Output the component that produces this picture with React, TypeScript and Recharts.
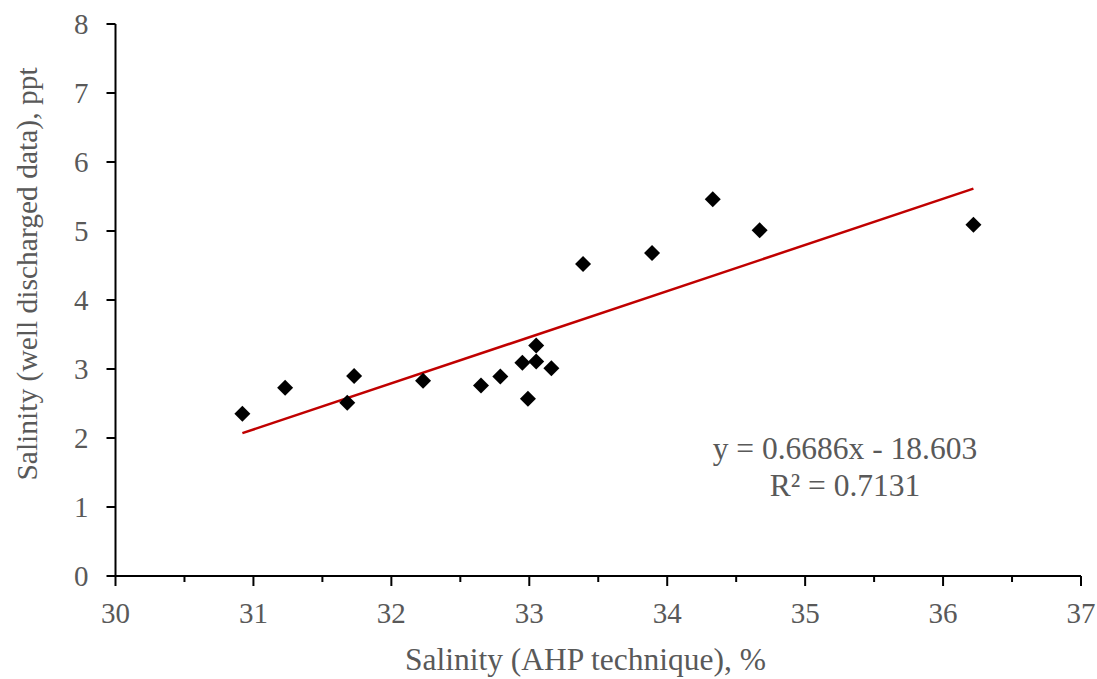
import { ScatterChart, Scatter, XAxis, YAxis } from 'recharts'

// Salinity readings, one entry per well
const salinityAhp = [30.92, 31.23, 31.73, 31.68, 32.23, 32.65, 32.79, 32.95, 32.99, 33.05, 33.05, 33.16, 33.39, 33.89, 34.33, 34.67, 36.22]
const salinityWell = [2.35, 2.73, 2.9, 2.51, 2.83, 2.76, 2.89, 3.09, 2.57, 3.34, 3.11, 3.01, 4.52, 4.68, 5.46, 5.01, 5.09]

const xTicks = [30, 30.5, 31, 31.5, 32, 32.5, 33, 33.5, 34, 34.5, 35, 35.5, 36, 36.5, 37]
const yTicks = [0, 1, 2, 3, 4, 5, 6, 7, 8]

// linear fit reported on the chart
const slope = 0.6686
const intercept = -18.603
const rSquared = 0.7131

const FONT = "'Liberation Serif', 'Times New Roman', serif"
const TEXT = '#595959'
const TICK_SIZE = 10
const TICK_MARGIN = 16

const points = salinityAhp.map((x, i) => ({ x, y: salinityWell[i] }))
const xMin = Math.min(...salinityAhp)
const xMax = Math.max(...salinityAhp)
const trend = [xMin, xMax].map((x) => ({ x, y: slope * x + intercept }))

function XTick(props: any) {
  const { x, y, payload } = props
  const major = Number.isInteger(payload.value)
  const axisY = y - TICK_SIZE - TICK_MARGIN
  return (
    <g>
      <line x1={x} x2={x} y1={axisY} y2={axisY + (major ? 10 : 6)} stroke="#000" strokeWidth={2} />
      {major && (
        <text x={x} y={y} dy="0.71em" textAnchor="middle" fill={TEXT} fontSize={29} fontFamily={FONT}>
          {payload.value}
        </text>
      )}
    </g>
  )
}

function Diamond(props: any) {
  const { cx, cy } = props
  const r = 8
  return <path d={`M${cx},${cy - r}L${cx + r},${cy}L${cx},${cy + r}L${cx - r},${cy}Z`} fill="#000" />
}

export default function App() {
  return (
    <div style={{ position: 'absolute', left: 0, top: 0, background: '#fff' }}>
      <ScatterChart width={1097} height={679} margin={{ top: 24, right: 16, bottom: 3, left: 15.5 }}>
        <XAxis
          type="number"
          dataKey="x"
          domain={[30, 37]}
          ticks={xTicks}
          interval={0}
          height={100}
          tickSize={TICK_SIZE}
          tickMargin={TICK_MARGIN}
          tickLine={false}
          axisLine={{ stroke: '#000', strokeWidth: 2 }}
          tick={<XTick />}
          label={{
            content: () => (
              <text x={585.5} y={670} textAnchor="middle" fill={TEXT} fontSize={31.5} fontFamily={FONT}>
                Salinity (AHP technique), %
              </text>
            ),
          }}
        />
        <YAxis
          type="number"
          dataKey="y"
          domain={[0, 8]}
          ticks={yTicks}
          interval={0}
          width={100}
          tickSize={9}
          tickMargin={18}
          tickLine={{ stroke: '#000', strokeWidth: 2 }}
          axisLine={{ stroke: '#000', strokeWidth: 2 }}
          tick={{ fill: TEXT, fontSize: 29, fontFamily: FONT }}
          label={{
            content: () => (
              <text
                x={37}
                y={274}
                transform="rotate(-90, 37, 274)"
                textAnchor="middle"
                fill={TEXT}
                fontSize={29.5}
                fontFamily={FONT}
              >
                Salinity (well discharged data), ppt
              </text>
            ),
          }}
        />
        <Scatter
          data={trend}
          line={{ stroke: '#C00000', strokeWidth: 2.5 }}
          shape={() => <g />}
          isAnimationActive={false}
        />
        <Scatter data={points} shape={<Diamond />} isAnimationActive={false} />
        <text x={845} y={459} textAnchor="middle" fill={TEXT} fontSize={31.5} fontFamily={FONT}>
          {`y = ${slope}x - ${Math.abs(intercept)}`}
        </text>
        <text x={845} y={496} textAnchor="middle" fill={TEXT} fontSize={31.5} fontFamily={FONT}>
          {`R² = ${rSquared}`}
        </text>
      </ScatterChart>
    </div>
  )
}
